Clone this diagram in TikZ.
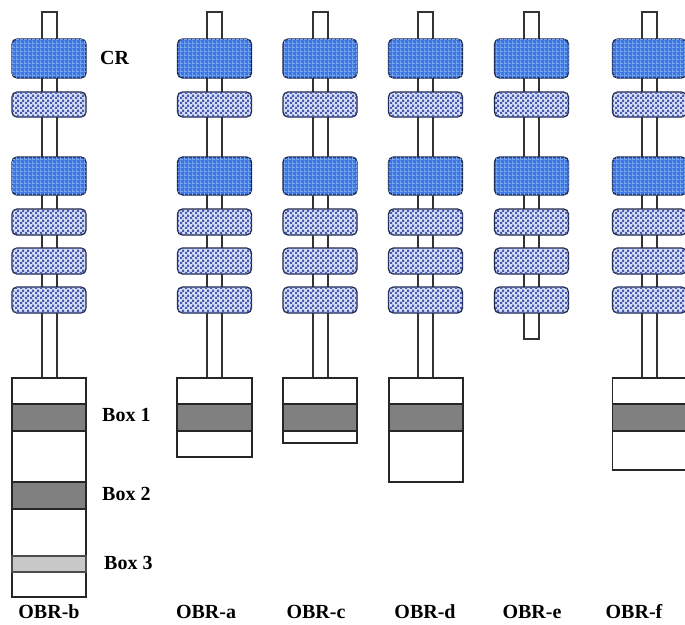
\documentclass[tikz,border=0pt]{standalone}
\usepackage{fontspec}
\setmainfont{Liberation Serif}
\usetikzlibrary{patterns.meta}
\definecolor{crblue}{RGB}{60,118,228}
\definecolor{crgrid}{RGB}{120,165,240}
\definecolor{smallbg}{RGB}{215,222,246}
\definecolor{smalldot}{RGB}{70,90,175}
\definecolor{edgec}{RGB}{30,38,70}
\definecolor{bandc}{RGB}{128,128,128}
\definecolor{lightband}{RGB}{200,200,200}
\tikzdeclarepattern{
  name=checker, type=uncolored,
  bottom left={(0pt,0pt)}, top right={(5pt,5pt)}, tile size={(5pt,5pt)},
  code={\pgfpathrectangle{\pgfpoint{0pt}{0pt}}{\pgfpoint{2.5pt}{2.5pt}}%
        \pgfpathrectangle{\pgfpoint{2.5pt}{2.5pt}}{\pgfpoint{2.5pt}{2.5pt}}%
        \pgfusepath{fill}}
}
\tikzdeclarepattern{
  name=bluegrid, type=uncolored,
  bottom left={(0pt,0pt)}, top right={(4pt,4pt)}, tile size={(4pt,4pt)},
  code={\pgfpathrectangle{\pgfpoint{0pt}{0pt}}{\pgfpoint{1pt}{4pt}}%
        \pgfpathrectangle{\pgfpoint{0pt}{0pt}}{\pgfpoint{4pt}{1pt}}%
        \pgfusepath{fill}}
}
\tikzset{
  crbig/.style={draw=edgec, line width=1.3pt, rounded corners=5pt, fill=crblue,
    postaction={pattern=bluegrid, pattern color=crgrid}},
  crsmall/.style={draw=edgec, line width=1.3pt, rounded corners=5pt, fill=smallbg,
    postaction={pattern=checker, pattern color=smalldot}},
  rod/.style={draw=black!80, line width=1.5pt, fill=white},
  obrbox/.style={draw=black!85, line width=1.2pt, fill=white},
  band/.style={draw=black!85, line width=1.2pt, fill=bandc},
  lband/.style={draw=black!70, line width=1.2pt, fill=lightband},
  lbl/.style={font=\fontsize{20}{24}\selectfont\bfseries, inner sep=0pt},
}
\newcommand\crstack[1]{%
  \draw[crbig]   (#1-37,39) rectangle (#1+37,78);
  \draw[crsmall] (#1-37,92) rectangle (#1+37,117);
  \draw[crbig]   (#1-37,157) rectangle (#1+37,195);
  \draw[crsmall] (#1-37,209) rectangle (#1+37,235);
  \draw[crsmall] (#1-37,248) rectangle (#1+37,274);
  \draw[crsmall] (#1-37,287) rectangle (#1+37,313);
}
\begin{document}
\begin{tikzpicture}[x=1pt,y=-1pt]
\useasboundingbox (0,0) rectangle (685,624);
% rods
\foreach \c/\b in {49.5/378,214.5/378,320.5/378,425.5/378,531.5/339,649.5/378}{
  \draw[rod] (\c-7.5,12) rectangle (\c+7.5,\b);
}
% CR stacks
\foreach \c in {49,214.5,320,425.5,531.5,649.5}{\crstack{\c}}
% OBR-b
\draw[obrbox] (12,378) rectangle (86,597);
\draw[band] (12,404) rectangle (86,431);
\draw[band] (12,482) rectangle (86,509);
\draw[lband] (12,556) rectangle (86,572);
% OBR-a
\draw[obrbox] (177,378) rectangle (252,457);
\draw[band] (177,404) rectangle (252,431);
% OBR-c
\draw[obrbox] (283,378) rectangle (357,443);
\draw[band] (283,404) rectangle (357,431);
% OBR-d
\draw[obrbox] (389,378) rectangle (463,482);
\draw[band] (389,404) rectangle (463,431);
% OBR-f
\draw[obrbox] (612.5,378) rectangle (687,470);
\draw[band] (612.5,404) rectangle (687,431);
% labels
\node[lbl, anchor=west] (cr) at (100,58) {CR};
\node[lbl, anchor=west] (box1) at (102,415) {Box 1};
\node[lbl, anchor=west] (box2) at (102,494) {Box 2};
\node[lbl, anchor=west] (box3) at (104,563) {Box 3};
\node[lbl] (obrb) at (49,612) {OBR-b};
\node[lbl] (obra) at (206,612) {OBR-a};
\node[lbl] (obrc) at (316,612) {OBR-c};
\node[lbl] (obrd) at (425,612) {OBR-d};
\node[lbl] (obre) at (532,612) {OBR-e};
\node[lbl] (obrf) at (634,612) {OBR-f};
\end{tikzpicture}
\end{document}
